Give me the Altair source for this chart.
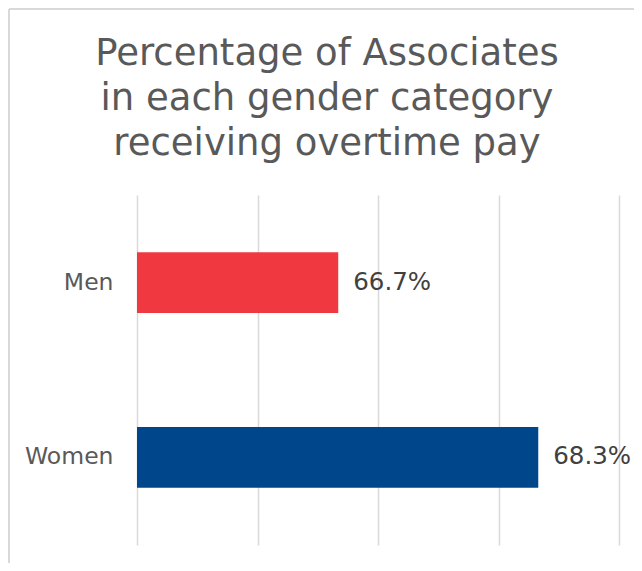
import altair as alt
import pandas as pd

categories = ["Men", "Women"]
values = [66.67, 68.33]
colors = ["#EF3840", "#00468B"]
title_lines = ["Percentage of Associates", "in each gender category", "receiving overtime pay"]
grid_values = [65, 66, 67, 68, 69]

df = pd.DataFrame({"Gender": categories, "Pct": values, "Color": colors})

FONT = "DejaVu Sans"

y_enc = alt.Y(
    "Gender:N",
    sort=categories,
    scale=alt.Scale(paddingInner=0.653, paddingOuter=0.327),
    axis=alt.Axis(
        title=None, ticks=False, domain=False, grid=False,
        labelFontSize=23.5, labelPadding=24, labelColor="#595959", labelFont=FONT,
    ),
)
x_enc = alt.X(
    "Pct:Q",
    scale=alt.Scale(domain=[65, 69], zero=False, nice=False),
    axis=alt.Axis(
        title=None, labels=False, ticks=False, domain=False, grid=True,
        values=grid_values, gridColor="#D9D9D9", gridWidth=1.5,
    ),
)

bars = alt.Chart(df).mark_bar().encode(
    x=x_enc,
    x2=alt.datum(65),
    y=y_enc,
    color=alt.Color("Color:N", scale=None),
)

labels = alt.Chart(df).transform_calculate(
    label="format(datum.Pct, '.1f') + '%'"
).mark_text(
    align="left", baseline="middle", dx=15, fontSize=24.5, font=FONT, color="#404040"
).encode(
    x="Pct:Q",
    y=alt.Y("Gender:N", sort=categories),
    text="label:N",
)

border_data = alt.Data(values=[{"a": 1}])
left_border = alt.Chart(border_data).mark_rule(color="#D9D9D9", strokeWidth=2).encode(
    x=alt.value(-128), y=alt.value(-186), y2=alt.value(380)
)
top_border = alt.Chart(border_data).mark_rule(color="#D9D9D9", strokeWidth=2).encode(
    x=alt.value(-128), x2=alt.value(500), y=alt.value(-186)
)

chart = alt.layer(left_border, top_border, bars, labels).properties(
    width=482,
    height=350,
    autosize=alt.AutoSizeParams(type="none"),
    padding={"left": 129, "top": 187, "right": 15, "bottom": 18},
    title=alt.TitleParams(
        text=title_lines,
        fontSize=37,
        font=FONT,
        fontWeight="normal",
        color="#595959",
        lineHeight=45,
        anchor="middle",
        frame="group",
        dx=-51,
        offset=-155,
    ),
).configure_view(stroke=None)

chart.save("out.html", embed_options={"renderer": "svg", "actions": False})
